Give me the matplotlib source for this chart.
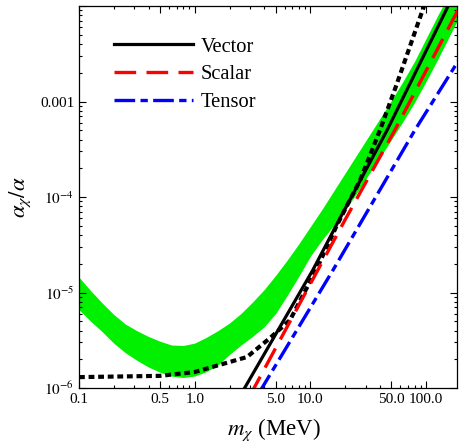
import matplotlib
matplotlib.use("Agg")
import matplotlib.pyplot as plt
from matplotlib.ticker import FixedLocator, FixedFormatter, NullFormatter

plt.rcParams["font.family"] = ["Liberation Serif", "DejaVu Serif"]
plt.rcParams["mathtext.fontset"] = "stix"

band_logm = [-1.0, -0.9, -0.8, -0.7, -0.6, -0.5, -0.4, -0.3, -0.2, -0.1, 0.0, 0.1, 0.2, 0.3,
             0.4, 0.5, 0.6, 0.7, 0.8, 0.9, 1.0, 1.1, 1.2, 1.3, 1.4, 1.5, 1.6, 1.7, 1.8, 1.9,
             2.0, 2.1, 2.3]
band_hi_log = [-4.84, -4.98, -5.11, -5.23, -5.33, -5.40, -5.46, -5.51, -5.55, -5.555, -5.53,
               -5.47, -5.40, -5.32, -5.22, -5.10, -4.97, -4.82, -4.66, -4.49, -4.31, -4.13,
               -3.94, -3.75, -3.56, -3.37, -3.18, -2.99, -2.79, -2.58, -2.34, -2.10, -1.65]
band_lo_log = [-5.18, -5.30, -5.41, -5.53, -5.63, -5.71, -5.78, -5.835, -5.875, -5.89, -5.875,
               -5.83, -5.76, -5.65, -5.55, -5.46, -5.36, -5.22, -5.03, -4.83, -4.62, -4.45,
               -4.30, -4.14, -3.96, -3.77, -3.59, -3.40, -3.21, -3.01, -2.79, -2.56, -2.08]

# black dotted bound
dot_x = [0.1, 0.5, 1.0, 2.83, 4.48, 6.67, 11.2, 17.0, 26.9, 40.0, 55.0, 96.0, 100.0]
dot_y = [1.30e-6, 1.34e-6, 1.47e-6, 2.11e-6, 3.34e-6, 5.15e-6, 1.72e-5, 5.1e-5,
         1.5e-4, 5.04e-4, 1.45e-3, 1.0e-2, 1.15e-2]

vector_x = [2.5, 10.5, 17.7, 46.0, 155.0, 175.0]
vector_y = [8.5e-7, 1.72e-5, 5.74e-5, 5.0e-4, 1.0e-2, 1.35e-2]

scalar_x = [3.0, 11.6, 19.9, 53.8, 185.0, 200.0]
scalar_y = [8.3e-7, 1.72e-5, 5.74e-5, 5.04e-4, 8.65e-3, 1.0e-2]

tensor_x = [3.6, 15.7, 80.2, 185.0, 200.0]
tensor_y = [8.9e-7, 1.72e-5, 5.04e-4, 2.53e-3, 2.95e-3]

x_ticks = [0.1, 0.5, 1.0, 5.0, 10.0, 50.0, 100.0]
x_labels = ["0.1", "0.5", "1.0", "5.0", "10.0", "50.0", "100.0"]
y_ticks = [1e-6, 1e-5, 1e-4, 1e-3, 1e-2]
y_labels = [r"$10^{-6}$", r"$10^{-5}$", r"$10^{-4}$", "0.001", ""]

band_x = [10 ** v for v in band_logm]
band_hi = [10 ** v for v in band_hi_log]
band_lo = [10 ** v for v in band_lo_log]

fig = plt.figure(figsize=(4.59, 4.44), dpi=100)
ax = fig.add_axes([79 / 459, 56 / 444, 378 / 459, 382 / 444])

ax.fill_between(band_x, band_lo, band_hi, color="#00f000", lw=0, zorder=1)
ax.plot(dot_x, dot_y, color="black", lw=3.0, dashes=(1.4, 0.9), zorder=3)
ax.plot(vector_x, vector_y, color="black", lw=2.3, label="Vector", zorder=4)
ax.plot(scalar_x, scalar_y, color="#ff0000", lw=2.4, dashes=(6.5, 3.1), label="Scalar", zorder=4)
ax.plot(tensor_x, tensor_y, color="#0000ff", lw=2.4, dashes=(6.2, 1.6, 2.2, 1.6), label="Tensor", zorder=4)

ax.set_xscale("log")
ax.set_yscale("log")
ax.set_xlim(0.1, 185)
ax.set_ylim(1e-6, 1e-2)

ax.xaxis.set_major_locator(FixedLocator(x_ticks))
ax.xaxis.set_major_formatter(FixedFormatter(x_labels))
x_minor = [m * d for d in (0.1, 1, 10, 100) for m in range(2, 10) if m * d < 185 and m != 5]
ax.xaxis.set_minor_locator(FixedLocator(x_minor))
ax.xaxis.set_minor_formatter(NullFormatter())
ax.yaxis.set_major_locator(FixedLocator(y_ticks))
ax.yaxis.set_major_formatter(FixedFormatter(y_labels))
y_minor = [m * d for d in (1e-6, 1e-5, 1e-4, 1e-3) for m in range(2, 10)]
ax.yaxis.set_minor_locator(FixedLocator(y_minor))
ax.yaxis.set_minor_formatter(NullFormatter())

ax.tick_params(which="both", direction="in", top=True, right=True, labelsize=11, width=0.8)
ax.tick_params(which="major", length=5)
ax.tick_params(which="minor", length=2.5)
for s in ax.spines.values():
    s.set_linewidth(0.9)

ax.set_xlabel(r"$m_\chi$ (MeV)", fontsize=16.5, labelpad=5)
ax.xaxis.set_label_coords(0.516, -0.075)
ax.set_ylabel(r"$\alpha_\chi/\alpha$", fontsize=16.5, labelpad=5)

ax.legend(loc="upper left", bbox_to_anchor=(0.07, 0.94), frameon=False, fontsize=14.8,
          handlelength=3.85, handletextpad=0.4, labelspacing=0.4, borderaxespad=0)

fig.savefig("out.png", dpi=100)
